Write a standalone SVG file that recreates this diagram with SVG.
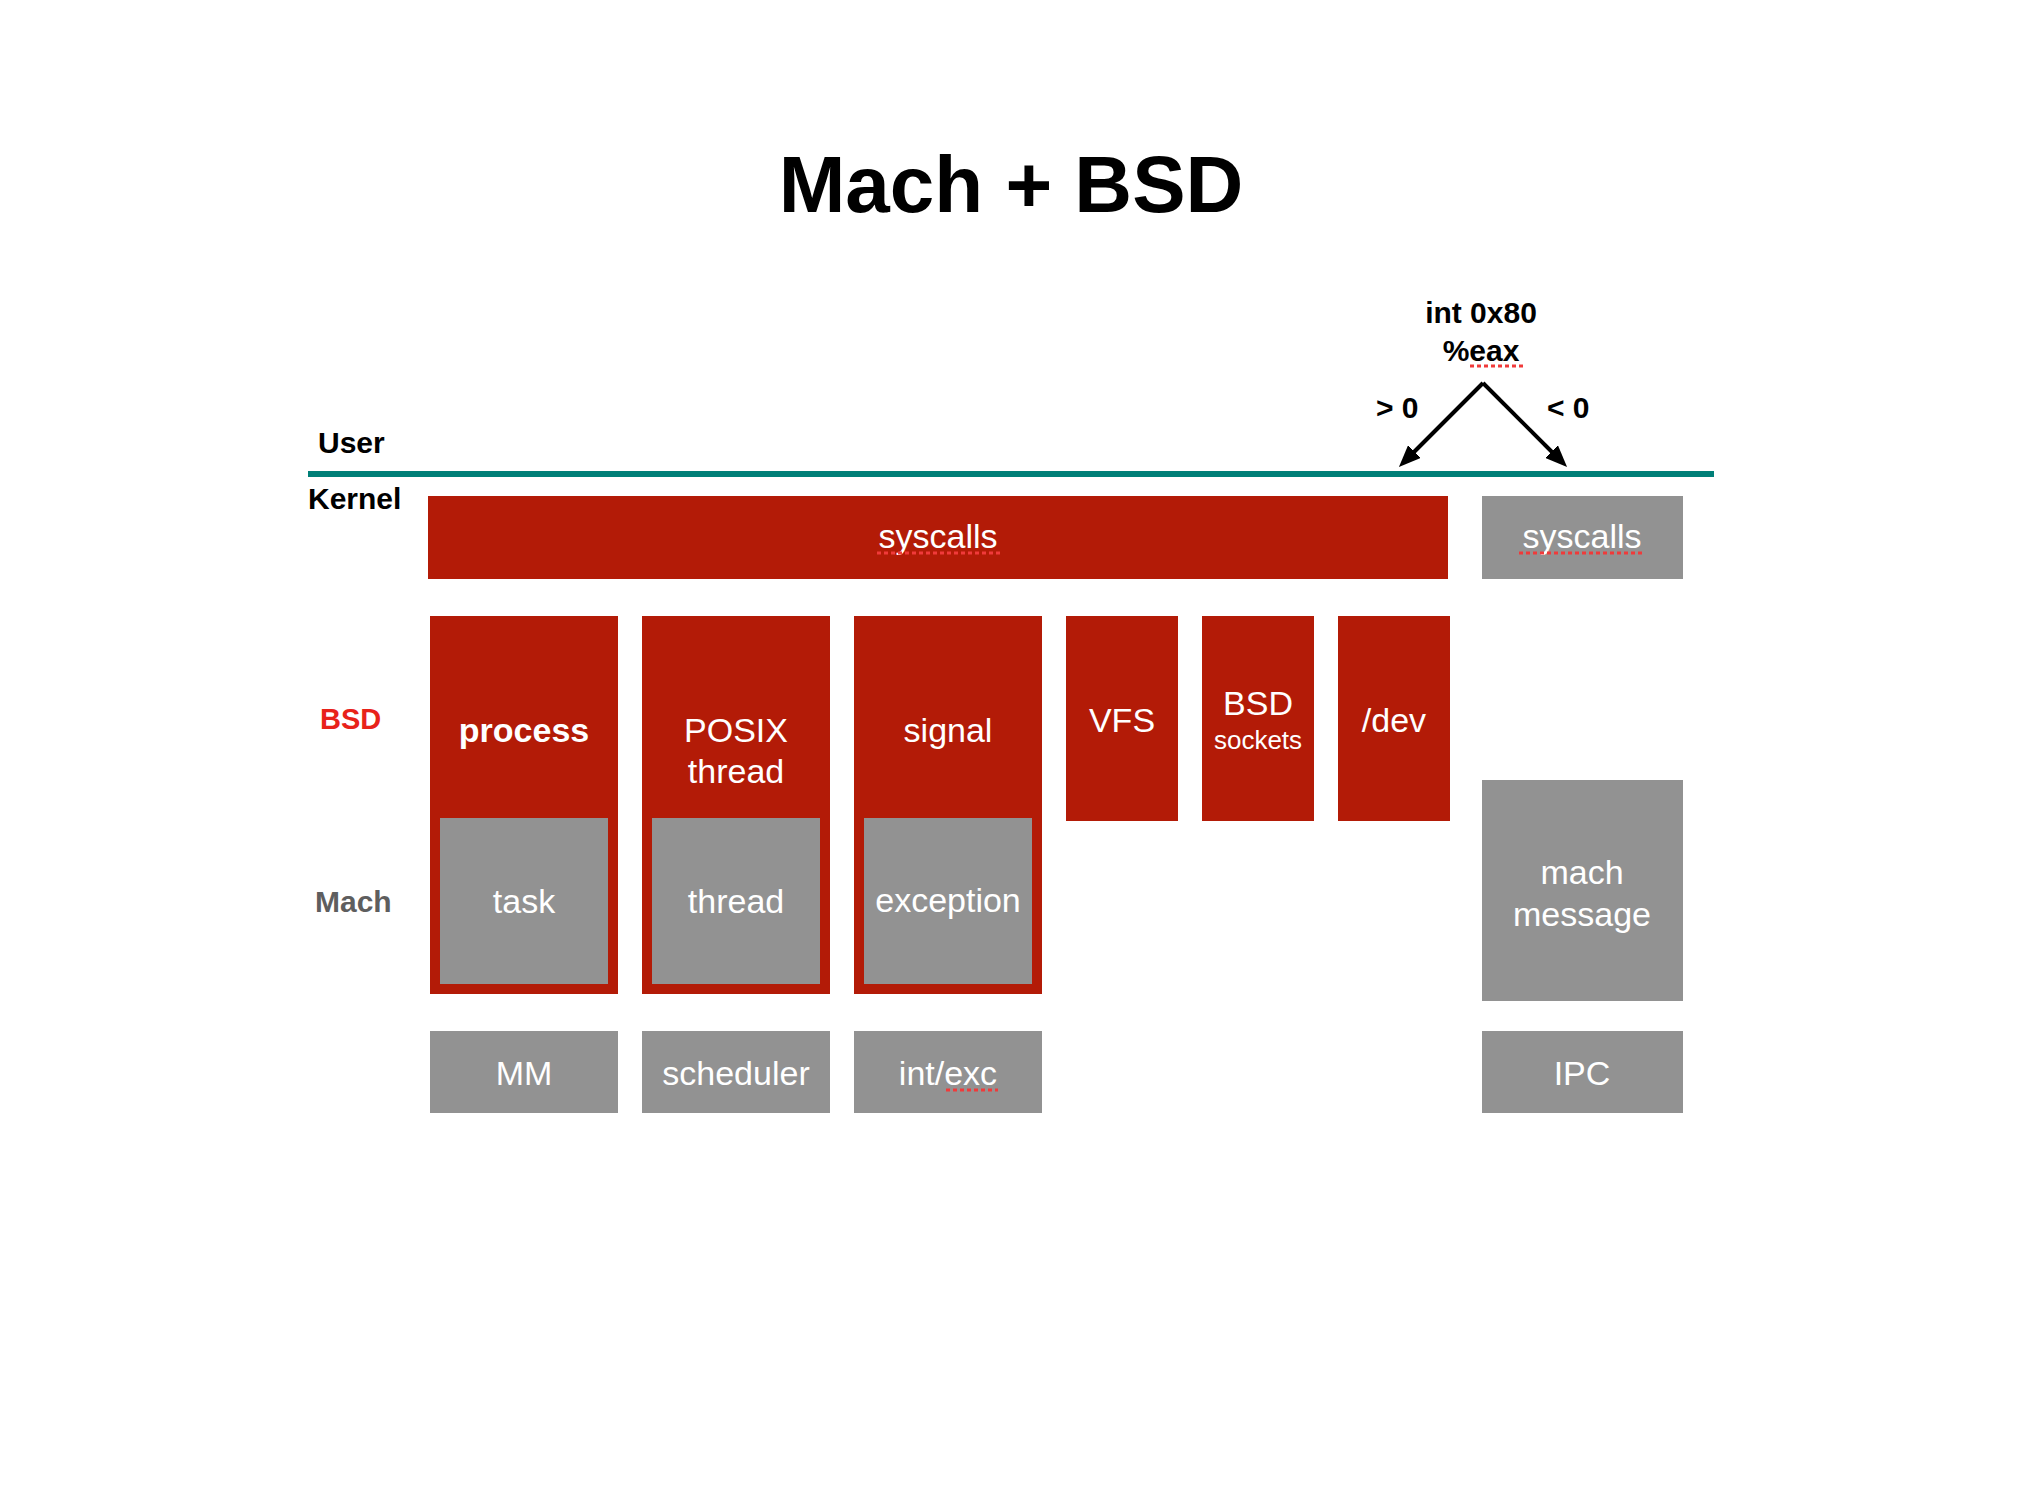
<svg xmlns="http://www.w3.org/2000/svg" width="2018" height="1500" viewBox="0 0 2018 1500">
<defs>
<style>
text{font-family:"Liberation Sans",Arial,Helvetica,sans-serif;}
.red{fill:#b31b07;}
.grey{fill:#929292;}
.wt{fill:#ffffff;font-size:34px;text-anchor:middle;}
.bold{font-weight:bold;}
.lbl{font-size:30px;font-weight:bold;}
.sq{stroke:#f03a3a;stroke-width:3;stroke-dasharray:4 3;fill:none;}
.arr{stroke:#000;stroke-width:4;fill:none;}
</style>
<marker id="ah" viewBox="0 0 22 18" refX="12" refY="9" markerWidth="22" markerHeight="18" markerUnits="userSpaceOnUse" orient="auto">
<path d="M0,0 L22,9 L0,18 z" fill="#000"/>
</marker>
</defs>
<rect width="2018" height="1500" fill="#ffffff"/>
<text x="1011" y="212" text-anchor="middle" font-size="80" font-weight="bold" fill="#000">Mach + BSD</text>

<g id="labels">
<text x="318" y="453" class="lbl" fill="#000">User</text>
<text x="308" y="509" class="lbl" fill="#000">Kernel</text>
<text x="320" y="729" class="lbl" fill="#e8221a" style="font-size:29px">BSD</text>
<text x="315" y="912" class="lbl" fill="#5e5e5e">Mach</text>
<text x="1481" y="323" text-anchor="middle" font-size="30" font-weight="bold" fill="#000">int 0x80</text>
<text x="1481" y="361" text-anchor="middle" font-size="30" font-weight="bold" fill="#000">%eax</text>
<text x="1376" y="418" font-size="30" font-weight="bold" fill="#000">&gt; 0</text>
<text x="1547" y="418" font-size="30" font-weight="bold" fill="#000">&lt; 0</text>
</g>

<g id="boundary">
<rect x="308" y="471" width="1406" height="6" fill="#007f78"/>
</g>

<g id="connectors">
<path d="M1483,383 L1406,460" class="arr" marker-end="url(#ah)"/>
<path d="M1483,383 L1560,460" class="arr" marker-end="url(#ah)"/>
</g>

<g id="bsd-syscalls">
<rect x="428" y="496" width="1020" height="83" class="red"/>
<text x="938" y="548" class="wt">syscalls</text>
</g>
<g id="mach-syscalls">
<rect x="1482" y="496" width="201" height="83" class="grey"/>
<text x="1582" y="548" class="wt">syscalls</text>
</g>

<g id="process">
<rect x="430" y="616" width="188" height="378" class="red"/>
<text x="524" y="742" class="wt bold">process</text>
</g>
<g id="task">
<rect x="440" y="818" width="168" height="166" class="grey"/>
<text x="524" y="913" class="wt">task</text>
</g>

<g id="posix-thread">
<rect x="642" y="616" width="188" height="378" class="red"/>
<text x="736" y="742" class="wt">POSIX</text>
<text x="736" y="783" class="wt">thread</text>
</g>
<g id="thread">
<rect x="652" y="818" width="168" height="166" class="grey"/>
<text x="736" y="913" class="wt">thread</text>
</g>

<g id="signal">
<rect x="854" y="616" width="188" height="378" class="red"/>
<text x="948" y="742" class="wt">signal</text>
</g>
<g id="exception">
<rect x="864" y="818" width="168" height="166" class="grey"/>
<text x="948" y="912" class="wt">exception</text>
</g>

<g id="vfs">
<rect x="1066" y="616" width="112" height="205" class="red"/>
<text x="1122" y="732" class="wt">VFS</text>
</g>
<g id="bsd-sockets">
<rect x="1202" y="616" width="112" height="205" class="red"/>
<text x="1258" y="715" class="wt">BSD</text>
<text x="1258" y="749" class="wt" style="font-size:26px">sockets</text>
</g>
<g id="dev">
<rect x="1338" y="616" width="112" height="205" class="red"/>
<text x="1394" y="732" class="wt">/dev</text>
</g>

<g id="mach-message">
<rect x="1482" y="780" width="201" height="221" class="grey"/>
<text x="1582" y="884" class="wt">mach</text>
<text x="1582" y="926" class="wt">message</text>
</g>

<g id="mm">
<rect x="430" y="1031" width="188" height="82" class="grey"/>
<text x="524" y="1085" class="wt">MM</text>
</g>
<g id="scheduler">
<rect x="642" y="1031" width="188" height="82" class="grey"/>
<text x="736" y="1085" class="wt">scheduler</text>
</g>
<g id="int-exc">
<rect x="854" y="1031" width="188" height="82" class="grey"/>
<text x="948" y="1085" class="wt">int/exc</text>
</g>
<g id="ipc">
<rect x="1482" y="1031" width="201" height="82" class="grey"/>
<text x="1582" y="1085" class="wt">IPC</text>
</g>

<g id="spellcheck">
<line x1="1470" y1="366" x2="1523" y2="366" class="sq"/>
<line x1="877" y1="553" x2="1000" y2="553" class="sq"/>
<line x1="1519" y1="553" x2="1643" y2="553" class="sq"/>
<line x1="946" y1="1090" x2="998" y2="1090" class="sq"/>
</g>
</svg>
